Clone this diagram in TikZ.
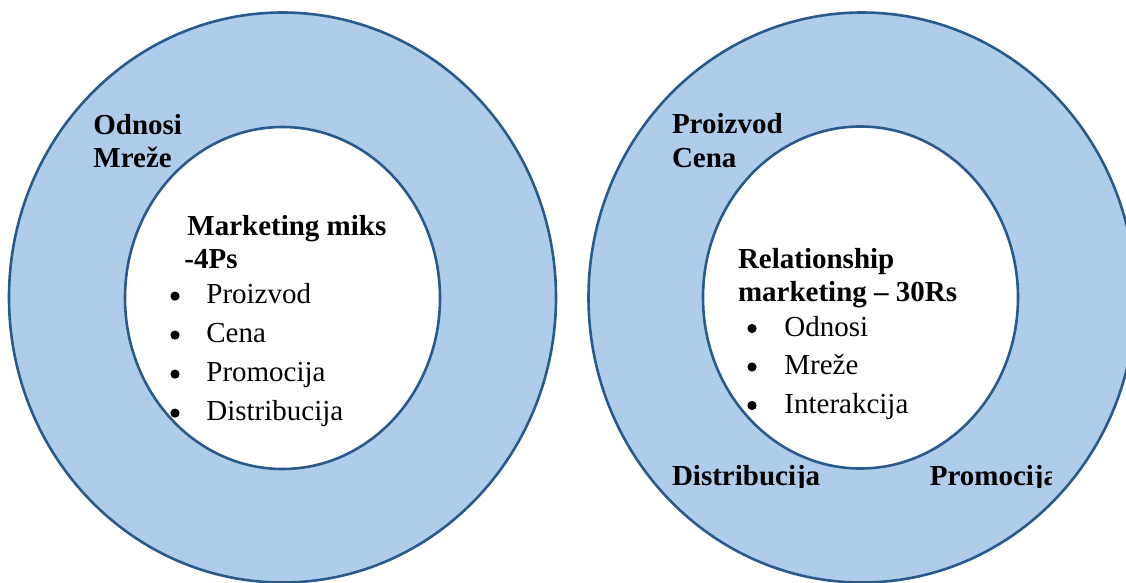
\documentclass[tikz,border=0pt]{standalone}
\usepackage{fontspec}
\setmainfont{Liberation Serif}
\usepackage{tikz}
\usetikzlibrary{shapes.geometric}
\definecolor{ringfill}{HTML}{AFCDEA}
\definecolor{ringline}{HTML}{2A5A8C}
\tikzstyle{ring}=[draw=ringline, line width=1.3pt, ellipse, inner sep=0pt, outer sep=0pt]
\tikzstyle{outer}=[ring, fill=ringfill, minimum width=273.5pt, minimum height=285pt]
\tikzstyle{inner}=[ring, fill=white, minimum width=157.5pt, minimum height=171pt]
\tikzstyle{head}=[anchor=base west, inner sep=0pt, font=\bfseries\fontsize{14.5}{16}\selectfont]
\tikzstyle{txt}=[anchor=base west, inner sep=0pt, font=\fontsize{14.5}{16}\selectfont]
\tikzstyle{dot}=[circle, fill=black, inner sep=0pt, minimum size=4.6pt]

\begin{document}
\begin{tikzpicture}[x=0.5pt,y=-0.5pt]
      \useasboundingbox (0,0) rectangle (1126,583);
      % left: 4Ps
      \node [outer] (lo) at (282.5,297.5) {};
      \node [inner] (li) at (282.5,298) {};
      \node [head] (la) at (93,134.4) {Odnosi};
      \node [head] (lb) at (93,167.9) {Mreže};
      \node [head] (lh1) at (187,235.5) {Marketing miks};
      \node [head] (lh2) at (184,268.3) {-4Ps};
      \foreach \t [count=\i] in {Proizvod,Cena,Promocija,Distribucija} {
        \node [dot] (ld\i) at (175,257.1+39*\i) {};
        \node [txt] (lt\i) at (206,264.6+39*\i) {\t};
      }

      % right: 30Rs
      \node [outer] (ro) at (862,297.5) {};
      \node [inner] (ri) at (860.5,297.5) {};
      \node [head] (ra) at (671.6,133.7) {Proizvod};
      \node [head] (rb) at (671.6,167.7) {Cena};
      \node [head] (rh1) at (737.6,268.5) {Relationship};
      \node [head] (rh2) at (737.6,301.8) {marketing – 30Rs};
      \foreach \t [count=\i] in {Odnosi,Mreže,Interakcija} {
        \node [dot] (rd\i) at (752,290+38.5*\i) {};
        \node [txt] (rt\i) at (784,297.5+38.5*\i) {\t};
      }
      \begin{scope}
        \clip (600,440) rectangle (1051,487.5);
        \node [head] (rc) at (671.6,485.5) {Distribucija};
        \node [head] (re) at (929.4,485.5) {Promocija};
      \end{scope}
  \end{tikzpicture}
\end{document}
